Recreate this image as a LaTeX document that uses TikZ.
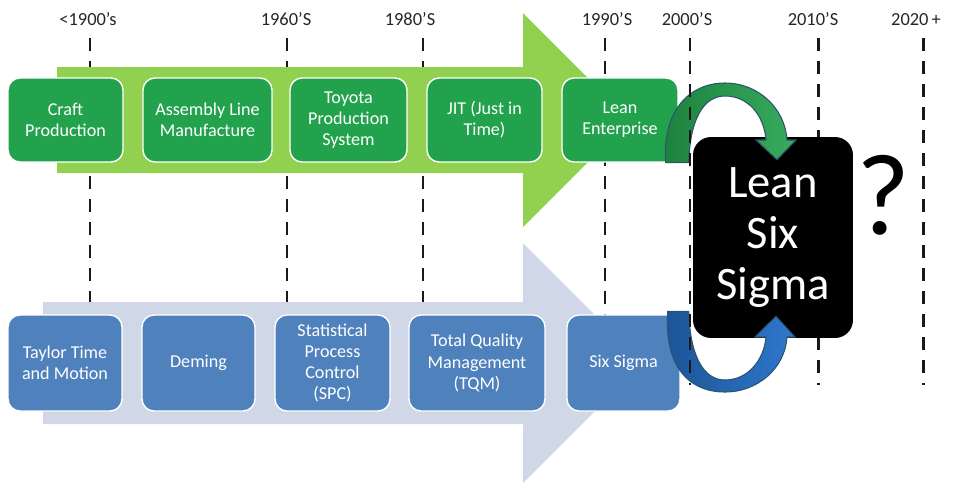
\documentclass[tikz,border=0pt]{standalone}
\usepackage{fontspec}
\setmainfont{Carlito}
\usetikzlibrary{calc}

\definecolor{leafgreen}{RGB}{146,208,80}
\definecolor{boxgreen}{RGB}{34,162,76}
\definecolor{boxblue}{RGB}{79,129,189}
\definecolor{paleblue}{RGB}{208,216,232}
\definecolor{bendline}{RGB}{44,84,112}
\definecolor{deepblue}{RGB}{28,84,150}
\definecolor{brightblue}{RGB}{46,120,205}

\begin{document}
\begin{tikzpicture}[
  x=0.02cm, y=-0.02cm,
  every node/.style={font=\fontsize{10.3}{12}\selectfont},
  gbox/.style={draw=white, line width=0.8pt, fill=boxgreen, text=white,
               rounded corners=0.24cm, minimum height=1.68cm,
               inner sep=0pt, align=center},
  bbox/.style={gbox, fill=boxblue, minimum height=1.92cm},
  year/.style={anchor=base, text=black!85,
               font=\fontsize{10.5}{12}\selectfont},
  marker/.style={line width=1.7pt, black!90,
                 dash pattern=on 7.4pt off 5.7pt},
  bendarrow/.style={draw=bendline, line width=0.6pt}
]
\useasboundingbox (0,0) rectangle (954,488);

%% ---- decade markers ------------------------------------------------
\foreach \i/\lx/\x/\txt in {1/88/90/{<1900’s}, 2/286/287/{1960’S},
                            3/410/423/{1980’S}, 4/607/605/{1990’S},
                            6/813/818/{2010’S}, 7/916/923/{2020\,+}} {
  \node[year] (yr\i) at (\lx,25) {\txt};
  \draw[marker] (\x,38) -- (\x,385);
}
\node[year] (yr5) at (687,25) {2000’S};

%% ---- background arrows ---------------------------------------------
% lean stream
\fill[leafgreen] (57,67) -- (523,67) -- (523,13) -- (630,120)
  -- (523,227) -- (523,173) -- (57,173) -- cycle;
% quality stream
\fill[paleblue] (43,302) -- (523,302) -- (523,243) -- (643,363)
  -- (523,483) -- (523,424) -- (43,424) -- cycle;

%% ---- lean stream boxes ---------------------------------------------
\node[gbox, minimum width=2.30cm] (craft)    at (65.5,120)  {Craft\\Production};
\node[gbox, minimum width=2.58cm] (assembly) at (207.5,120) {Assembly Line\\Manufacture};
\node[gbox, minimum width=2.34cm] (toyota)   at (348.5,120) {Toyota\\Production\\System};
\node[gbox, minimum width=2.30cm] (jit)      at (484.5,120) {JIT (Just in\\Time)};
\node[gbox, minimum width=2.32cm] (lean)     at (620,120)   {Lean\\Enterprise};

%% ---- quality stream boxes ------------------------------------------
\node[bbox, minimum width=2.28cm] (taylor) at (65,363)    {Taylor Time\\and Motion};
\node[bbox, minimum width=2.26cm] (deming) at (198.5,363) {Deming};
\node[bbox, minimum width=2.30cm] (spc)    at (332.5,363) {Statistical\\Process\\Control\\(SPC)};
\node[bbox, minimum width=2.72cm] (tqm)    at (477,363)   {Total Quality\\Management\\(TQM)};
\node[bbox, minimum width=2.26cm] (sixsig) at (623.5,363) {Six Sigma};

%% ---- merged result -------------------------------------------------
\node[fill=black, text=white, rounded corners=0.36cm, inner sep=0pt,
      minimum width=3.2cm, minimum height=4.02cm, align=center,
      font=\fontsize{26.5}{29.2}\selectfont] (lss) at (773,237.5)
      {Lean\\Six\\Sigma};
\node[font=\fontsize{66}{70}\selectfont] (qmark) at (883,195) {?};

%% ---- bends into Lean Six Sigma -------------------------------------
\draw[bendarrow, left color=boxgreen!80!black, right color=boxgreen!90!white]
  ($(lean.south east)+(-13,0)$) .. controls (662,110) and (690,83) .. (725,83)
  .. controls (758,83) and (785,108) .. (787,140) -- (796,140)
  -- ($(lss.north)+(4,23)$) -- (756,140) -- (766,140)
  .. controls (764,115) and (748,96) .. (725,96)
  .. controls (703,96) and (690,120) .. ($(lean.south east)+(10,0)$) -- cycle;
\draw[bendarrow, left color=deepblue, right color=brightblue]
  ($(sixsig.north east)+(-13,-3)$) .. controls (664,368) and (690,392) .. (725,392)
  .. controls (758,392) and (785,368) .. (787,337) -- (795,337)
  -- ($(lss.south)+(3,-22)$) -- (755,337) -- (766,337)
  .. controls (764,360) and (748,380) .. (725,380)
  .. controls (703,380) and (690,355) .. ($(sixsig.north east)+(8,-3)$) -- cycle;

% 2000's marker runs over the bends
\draw[marker] (690,38) -- (690,385);

\end{tikzpicture}
\end{document}
